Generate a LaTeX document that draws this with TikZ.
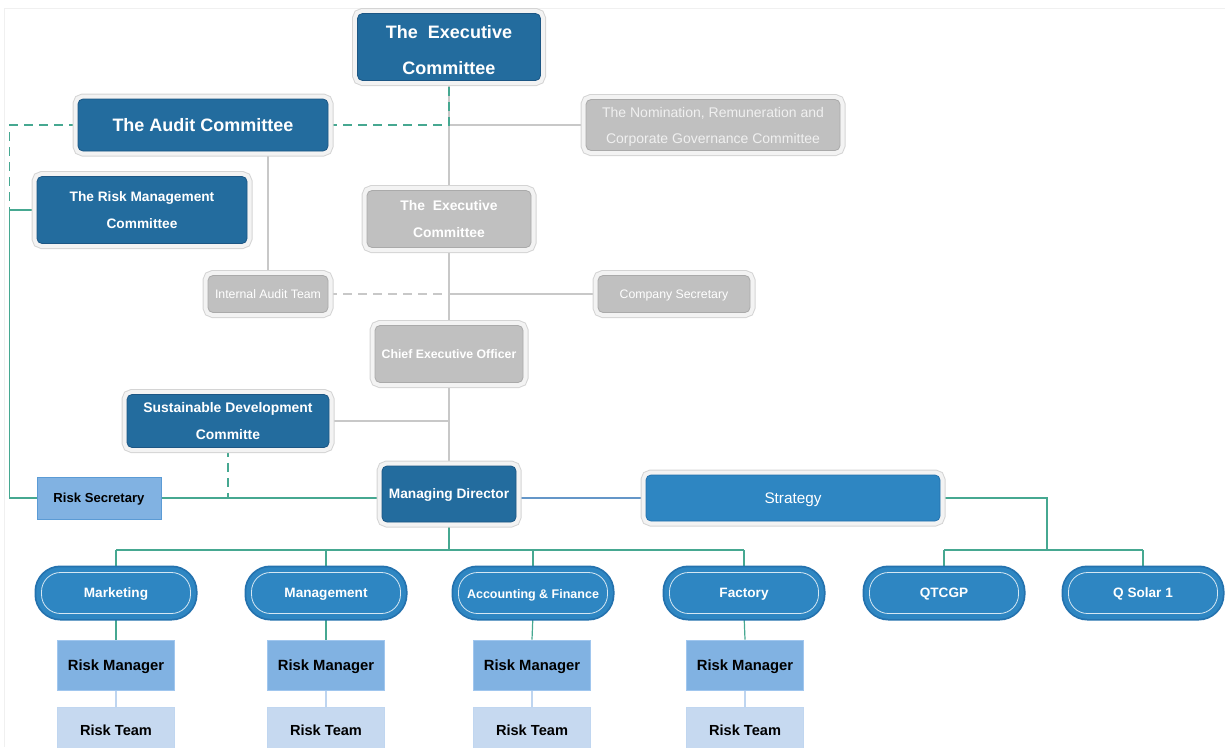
\documentclass[tikz,border=0pt]{standalone}
\usepackage{fontspec}
\setmainfont{Liberation Sans}
\usepackage{xcolor}
\usetikzlibrary{backgrounds}

\definecolor{darkblue}{RGB}{35,108,158}
\definecolor{darkedge}{RGB}{28,86,132}
\definecolor{midblue}{RGB}{46,134,194}
\definecolor{midedge}{RGB}{36,114,174}
\definecolor{boxgray}{RGB}{192,192,192}
\definecolor{grayedge}{RGB}{170,170,170}
\definecolor{framegray}{RGB}{212,212,212}
\definecolor{framefill}{RGB}{243,243,243}
\definecolor{linegray}{RGB}{200,200,200}
\definecolor{lineteal}{RGB}{70,168,145}
\definecolor{linesteel}{RGB}{100,150,200}
\definecolor{riskmid}{RGB}{129,178,226}
\definecolor{riskedge}{RGB}{160,198,238}
\definecolor{risklight}{RGB}{198,217,240}
\definecolor{secedge}{RGB}{91,155,213}
\definecolor{pagefaint}{RGB}{240,240,240}

\newcommand{\fs}[2]{\fontsize{#1}{#2}\selectfont}

\tikzset{
  every node/.style={text depth=0pt},
  framed/.style={rounded corners=5pt, inner sep=0pt, align=center, text=white,
    preaction={draw=framegray, line width=11pt},
    preaction={draw=framefill, line width=9pt}},
  twolines/.style={text depth=-4pt},
  darkbox/.style={framed, fill=darkblue, draw=darkedge, line width=0.8pt},
  graybox/.style={framed, fill=boxgray, draw=grayedge, line width=0.8pt},
  stratbox/.style={framed, fill=midblue, draw=midedge, line width=0.8pt},
  pill/.style={rounded corners=19pt, inner sep=0pt, minimum width=149pt,
    minimum height=41pt, fill=midblue, draw=white!80!midblue, line width=0.8pt,
    text=white, font=\fs{13.6}{16}\bfseries,
    preaction={draw=midedge, line width=14pt},
    preaction={draw=midblue, line width=10.5pt}},
  riskmgr/.style={rectangle, inner sep=0pt, fill=riskmid, draw=riskedge,
    line width=0.8pt, minimum width=117pt, minimum height=50pt,
    font=\fs{14.8}{17}\bfseries},
  riskteam/.style={riskmgr, fill=risklight, draw=risklight!85!riskedge,
    minimum height=46pt, font=\fs{14.6}{17}\bfseries},
  tealline/.style={draw=lineteal, line width=1.2pt},
  tealdash/.style={tealline, dash pattern=on 9pt off 6pt},
  grayline/.style={draw=linegray, line width=1.2pt},
  graydash/.style={grayline, dash pattern=on 9pt off 6pt},
  paleline/.style={draw=risklight!80!riskedge, line width=1.2pt}
}

\begin{document}
\begin{tikzpicture}[x=1pt,y=-1pt]
\useasboundingbox (0,0) rectangle (1225,747);
\draw[pagefaint] (4,8) -- (1225,8);
\draw[pagefaint] (4,8) -- (4,747);

% board and committees
\node[darkbox, twolines, minimum width=183pt, minimum height=67pt, font=\fs{18}{36}\bfseries]
  (exec) at (449,47) {\rule{0pt}{19pt}The\ \ Executive\\Committee};
\node[darkbox, minimum width=250pt, minimum height=52pt, font=\fs{18}{22}\bfseries]
  (audit) at (203,125) {The Audit Committee};
\node[graybox, text=white!94!black, minimum width=254pt, minimum height=51pt, font=\fs{14}{26}]
  (nomin) at (713,125) {The Nomination, Remuneration and\\Corporate Governance Committee};
\node[darkbox, twolines, minimum width=210pt, minimum height=67pt, font=\fs{13.7}{27}\bfseries]
  (riskmgmt) at (142,210) {The Risk Management\\Committee};
\node[graybox, twolines, minimum width=164pt, minimum height=57pt, font=\fs{13.9}{27}\bfseries]
  (exec2) at (449,219) {The\ \ Executive\\Committee};
\node[graybox, minimum width=120pt, minimum height=37pt, font=\fs{12.3}{15}]
  (intaudit) at (268,294) {Internal Audit Team};
\node[graybox, minimum width=152pt, minimum height=37pt, font=\fs{12.3}{15}]
  (compsec) at (674,294) {Company Secretary};
\node[graybox, minimum width=148pt, minimum height=57pt, font=\fs{12.3}{15}\bfseries]
  (ceo) at (449,354) {Chief Executive Officer};
\node[darkbox, twolines, minimum width=202pt, minimum height=53pt, font=\fs{13.9}{27}\bfseries]
  (susdev) at (228,421) {Sustainable Development\\Committe};
\node[darkbox, minimum width=134pt, minimum height=56pt, font=\fs{13.7}{16}\bfseries]
  (md) at (449,494) {Managing Director};
\node[rectangle, fill=riskmid, draw=secedge, line width=0.8pt, minimum width=124pt,
  minimum height=42pt, font=\fs{13.1}{16}\bfseries] (risksec) at (99,498) {Risk Secretary};
\node[stratbox, minimum width=294pt, minimum height=46pt, font=\fs{15.3}{18}]
  (strategy) at (793,498) {Strategy};

% departments
\node[pill] (marketing) at (116,593) {Marketing};
\node[pill] (management) at (326,593) {Management};
\node[pill, font=\fs{12.5}{15}\bfseries] (accounting) at (533,593) {\raisebox{-2pt}{Accounting \& Finance}};
\node[pill] (factory) at (744,593) {Factory};
\node[pill] (qtcgp) at (944,593) {QTCGP};
\node[pill] (qsolar) at (1143,593) {Q Solar 1};

\node[riskmgr] (mgr1) at (116,665) {Risk Manager};
\node[riskmgr] (mgr2) at (326,665) {Risk Manager};
\node[riskmgr] (mgr3) at (532,665) {Risk Manager};
\node[riskmgr] (mgr4) at (745,665) {Risk Manager};
\node[riskteam] (team1) at (116,730) {Risk Team};
\node[riskteam] (team2) at (326,730) {Risk Team};
\node[riskteam] (team3) at (532,730) {Risk Team};
\node[riskteam] (team4) at (745,730) {Risk Team};

\begin{scope}[on background layer]
\coordinate (topjoin) at (exec.south |- audit.east);
\coordinate (lbus) at ([xshift=-27pt]riskmgmt.west);
\coordinate (midjoin) at (exec2.south |- intaudit.east);
\coordinate (bus) at (449,550);
\coordinate (sbus) at (1047,550);

\draw[grayline] (exec.south) -- (exec2.north);
\draw[grayline] (topjoin) -- (nomin.west);
\draw[tealdash] (audit.east) -- (topjoin) -- (exec.south);
\draw[tealdash] (audit.west) -| (lbus);
\draw[tealline] (riskmgmt.west) -- (lbus) |- (risksec.west);
\draw[grayline] (intaudit.north |- audit.south) -- (intaudit.north);
\draw[grayline] (exec2.south) -- (ceo.north);
\draw[graydash] (intaudit.east) -- (midjoin);
\draw[grayline] (midjoin) -- (compsec.west);
\draw[grayline] (ceo.south) -- (md.north);
\draw[grayline] (susdev.east) -- (susdev.east -| md.north);
\draw[tealdash] (susdev.south) -- (susdev.south |- risksec.east);
\draw[tealline] (risksec.east) -- (risksec.east -| md.west);
\draw[draw=linesteel, line width=1.2pt] (md.east |- strategy.west) -- (strategy.west);

\draw[tealline] (md.south) -- (bus);
\draw[tealline] (marketing.north |- bus) -- (factory.north |- bus);
\foreach \dept in {marketing,management,accounting,factory}
  \draw[tealline] (\dept.north |- bus) -- (\dept.north);
\draw[tealline] (strategy.east) -| (sbus);
\draw[tealline] (qtcgp.north |- sbus) -- (qsolar.north |- sbus);
\draw[tealline] (qtcgp.north |- sbus) -- (qtcgp.north);
\draw[tealline] (qsolar.north |- sbus) -- (qsolar.north);

\foreach \dept/\k in {marketing/1,management/2,accounting/3,factory/4} {
  \draw[tealline] (\dept.south) -- (mgr\k.north);
  \draw[paleline] (mgr\k.south) -- (team\k.north);
}
\end{scope}
\end{tikzpicture}
\end{document}
